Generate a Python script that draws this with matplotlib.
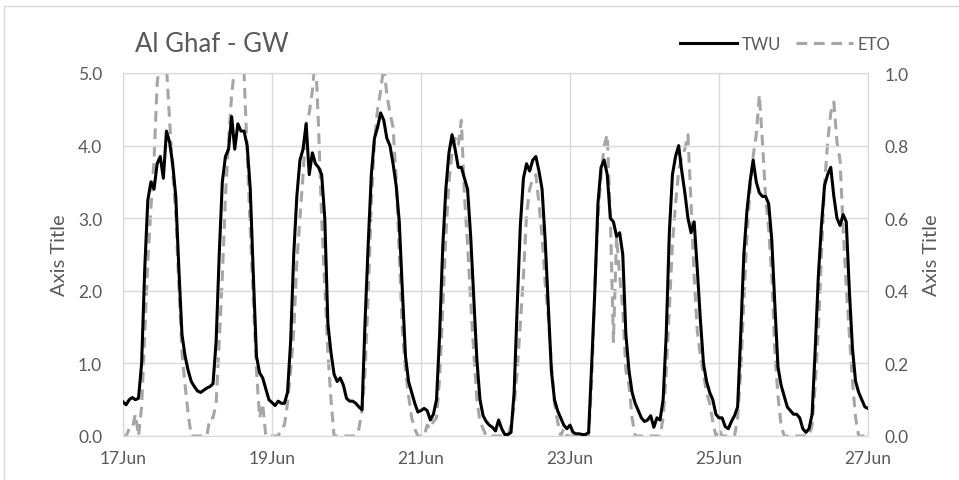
import matplotlib
matplotlib.use('Agg')
import matplotlib.pyplot as plt
import matplotlib.dates as mdates
from matplotlib.patches import Rectangle
import numpy as np
import pandas as pd

plt.rcParams['font.family'] = ['Lato', 'DejaVu Sans']

# hourly values, one row per day (17Jun .. 26Jun), plus the 27Jun 00:00 point
twu = [
    0.47, 0.43, 0.50, 0.53, 0.50, 0.52, 1.0, 2.3, 3.25, 3.5, 3.4, 3.75, 3.85, 3.55, 4.2, 4.05, 3.75, 3.3, 2.3, 1.4, 1.1, 0.9, 0.75, 0.68,
    0.62, 0.60, 0.63, 0.66, 0.68, 0.72, 1.3, 2.5, 3.5, 3.85, 3.95, 4.4, 3.95, 4.3, 4.2, 4.2, 4.0, 3.4, 2.2, 1.1, 0.87, 0.8, 0.65, 0.5,
    0.46, 0.42, 0.48, 0.45, 0.45, 0.6, 1.3, 2.5, 3.3, 3.8, 3.95, 4.3, 3.6, 3.9, 3.75, 3.7, 3.6, 3.0, 1.55, 1.15, 0.85, 0.75, 0.8, 0.7,
    0.52, 0.48, 0.48, 0.45, 0.40, 0.36, 1.6, 2.65, 3.6, 4.1, 4.25, 4.45, 4.35, 4.1, 4.0, 3.75, 3.45, 2.95, 2.0, 1.1, 0.75, 0.6, 0.45, 0.33,
    0.35, 0.38, 0.35, 0.22, 0.3, 0.5, 1.4, 2.6, 3.4, 3.9, 4.15, 3.95, 3.7, 3.7, 3.55, 3.4, 2.75, 1.9, 1.05, 0.5, 0.28, 0.2, 0.15, 0.12,
    0.07, 0.22, 0.1, 0.02, 0.02, 0.05, 0.6, 1.8, 2.9, 3.55, 3.75, 3.65, 3.8, 3.85, 3.65, 3.4, 2.7, 1.8, 0.9, 0.5, 0.35, 0.25, 0.15, 0.1,
    0.15, 0.05, 0.03, 0.03, 0.02, 0.02, 0.05, 1.0, 2.0, 3.2, 3.7, 3.8, 3.6, 3.0, 2.95, 2.75, 2.8, 2.5, 1.4, 0.9, 0.6, 0.45, 0.35, 0.25,
    0.2, 0.22, 0.28, 0.12, 0.25, 0.22, 0.5, 1.4, 2.8, 3.6, 3.85, 4.0, 3.65, 3.35, 3.0, 2.8, 2.95, 2.3, 1.6, 1.0, 0.75, 0.6, 0.5, 0.3,
    0.25, 0.25, 0.13, 0.1, 0.2, 0.28, 0.4, 1.4, 2.5, 3.1, 3.5, 3.8, 3.5, 3.35, 3.3, 3.3, 3.2, 2.7, 1.8, 0.95, 0.7, 0.55, 0.4, 0.35,
    0.3, 0.3, 0.25, 0.1, 0.05, 0.1, 0.3, 1.2, 2.2, 2.9, 3.45, 3.6, 3.7, 3.3, 3.0, 2.9, 3.05, 2.95, 2.0, 1.2, 0.75, 0.6, 0.5, 0.4,
    0.38,
]

eto = [
    0.0, 0.0, 0.02, 0.02, 0.06, 0.0, 0.08, 0.28, 0.48, 0.63, 0.76, 0.97, 1.05, 1.05, 1.02, 0.87, 0.73, 0.61, 0.41, 0.23, 0.14, 0.06, 0.0, 0.0,
    0.0, 0.0, 0.0, 0.0, 0.05, 0.05, 0.09, 0.26, 0.44, 0.66, 0.81, 0.94, 1.02, 1.05, 1.03, 1.0, 0.78, 0.57, 0.37, 0.18, 0.05, 0.09, 0.0, 0.0,
    0.0, 0.0, 0.0, 0.02, 0.03, 0.09, 0.18, 0.29, 0.48, 0.6, 0.72, 0.86, 0.89, 0.95, 1.05, 0.85, 0.6, 0.41, 0.23, 0.1, 0.0, 0.0, 0.0, 0.0,
    0.0, 0.0, 0.0, 0.0, 0.02, 0.07, 0.18, 0.39, 0.64, 0.81, 0.9, 0.95, 1.02, 0.94, 0.89, 0.85, 0.71, 0.5, 0.29, 0.18, 0.11, 0.05, 0.02, 0.0,
    0.0, 0.0, 0.03, 0.02, 0.04, 0.05, 0.16, 0.35, 0.55, 0.7, 0.78, 0.82, 0.8, 0.87, 0.66, 0.53, 0.37, 0.23, 0.1, 0.04, 0.02, 0.0, 0.0, 0.0,
    0.0, 0.0, 0.0, 0.0, 0.0, 0.03, 0.08, 0.18, 0.31, 0.44, 0.61, 0.68, 0.71, 0.72, 0.64, 0.55, 0.42, 0.33, 0.2, 0.09, 0.04, 0.0, 0.02, 0.0,
    0.0, 0.0, 0.0, 0.0, 0.0, 0.0, 0.0, 0.15, 0.41, 0.6, 0.72, 0.8, 0.83, 0.6, 0.26, 0.55, 0.44, 0.35, 0.18, 0.14, 0.05, 0.0, 0.0, 0.0,
    0.0, 0.0, 0.0, 0.0, 0.0, 0.0, 0.05, 0.17, 0.35, 0.53, 0.64, 0.73, 0.77, 0.79, 0.83, 0.64, 0.44, 0.29, 0.22, 0.17, 0.12, 0.09, 0.04, 0.0,
    0.02, 0.0, 0.0, 0.0, 0.0, 0.0, 0.05, 0.18, 0.37, 0.55, 0.68, 0.77, 0.83, 0.94, 0.81, 0.66, 0.57, 0.44, 0.23, 0.11, 0.03, 0.0, 0.0, 0.0,
    0.0, 0.0, 0.0, 0.0, 0.0, 0.0, 0.03, 0.14, 0.29, 0.5, 0.69, 0.81, 0.89, 0.92, 0.81, 0.76, 0.57, 0.41, 0.28, 0.15, 0.05, 0.0, 0.0, 0.0,
    0.0,
]

times = pd.date_range('2017-06-17', periods=len(twu), freq='h')
left_ticks = [0.0, 1.0, 2.0, 3.0, 4.0, 5.0]
right_ticks = [0.0, 0.2, 0.4, 0.6, 0.8, 1.0]

txt = '#595959'
grid = '#d9d9d9'

fig = plt.figure(figsize=(9.59, 4.81), dpi=100)
ax1 = fig.add_axes([123/959, 1-437/481, (868-123)/959, (437-74)/481])
ax2 = ax1.twinx()

# outer chart frame
fig.patches.append(Rectangle((4/959, -0.1), 1.2, 1-7/481+0.1, transform=fig.transFigure,
                             fill=False, edgecolor=grid, lw=1.0))

ax1.plot(times, twu, color='black', lw=2.2, zorder=3, label='TWU')
ax2.plot(times, eto, color='#a6a6a6', lw=2.2, dashes=(3.5, 2.2), label='ETO')
ax1.set_zorder(ax2.get_zorder() + 1)
ax1.patch.set_visible(False)

ax1.set_ylim(0, 5)
ax2.set_ylim(0, 1)
ax1.set_xlim(times[0], times[-1])
ax1.set_yticks(left_ticks)
ax2.set_yticks(right_ticks)
ax1.yaxis.set_major_formatter(matplotlib.ticker.FormatStrFormatter('%.1f'))
ax2.yaxis.set_major_formatter(matplotlib.ticker.FormatStrFormatter('%.1f'))
ax1.xaxis.set_major_locator(mdates.DayLocator(interval=2))
ax1.xaxis.set_major_formatter(mdates.DateFormatter('%d%b'))

ax2.grid(False)
ax1.grid(True, color=grid, lw=1.0)
ax1.set_axisbelow(True)
for ax in (ax1, ax2):
    for s in ax.spines.values():
        s.set_color(grid)
    ax.tick_params(length=0, colors=txt, labelsize=12.5)
ax1.tick_params(axis='x', pad=10)
ax1.tick_params(axis='y', pad=15)
ax2.tick_params(axis='y', pad=12)

ax1.set_ylabel('Axis Title', color=txt, fontsize=14.5, labelpad=7)
ax2.set_ylabel('Axis Title', color=txt, fontsize=14.5, labelpad=10)

fig.text(135/959, 1-45/481, 'Al Ghaf - GW', color=txt, fontsize=18.5, va='center', ha='left')

h1, l1 = ax1.get_legend_handles_labels()
h2, l2 = ax2.get_legend_handles_labels()
fig.legend(h1 + h2, l1 + l2, loc='center right', bbox_to_anchor=(899/959, 1-45/481), ncol=2,
           frameon=False, fontsize=12, labelcolor=txt, handlelength=3.4, handletextpad=0.3,
           columnspacing=0.9, borderpad=0)

fig.savefig('out.png', dpi=100)
